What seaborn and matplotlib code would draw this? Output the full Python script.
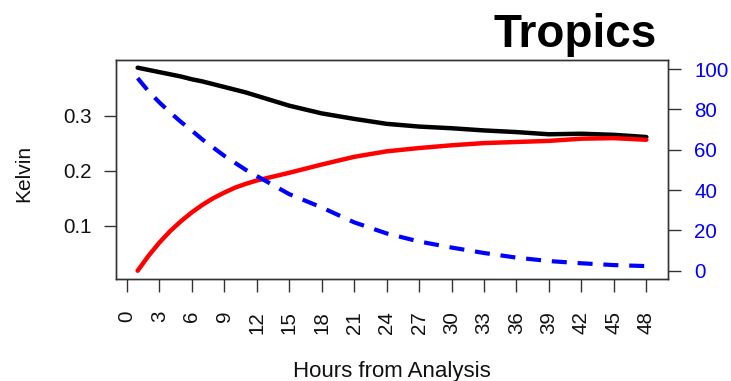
import matplotlib
matplotlib.use("Agg")
import matplotlib.pyplot as plt
import seaborn as sns
import pandas as pd

# Forecast hour and the three verification curves
hours = [1, 2, 3, 4, 5, 6, 7, 8, 9, 10, 11, 12, 15, 18, 21, 24, 27, 30,
         33, 36, 39, 42, 45, 48]
rmse_kelvin = [0.387, 0.383, 0.379, 0.375, 0.371, 0.366, 0.362, 0.357, 0.352,
               0.347, 0.342, 0.336, 0.318, 0.304, 0.294, 0.285, 0.280, 0.277,
               0.273, 0.270, 0.266, 0.267, 0.265, 0.261]
spread_kelvin = [0.018, 0.045, 0.069, 0.090, 0.108, 0.124, 0.138, 0.150, 0.160,
                 0.169, 0.176, 0.182, 0.196, 0.211, 0.225, 0.235, 0.241, 0.246,
                 0.250, 0.252, 0.254, 0.258, 0.259, 0.256]
percent_right = [95.5, 89.0, 83.5, 78.5, 73.8, 69.5, 65.0, 61.0, 57.0,
                 53.5, 50.0, 47.0, 38.0, 31.4, 24.0, 18.5, 14.5, 11.5,
                 8.8, 6.5, 4.8, 3.7, 2.8, 2.3]

x_ticks = list(range(0, 49, 3))
left_ticks = [0.1, 0.2, 0.3]
right_ticks = [0, 20, 40, 60, 80, 100]

df = pd.DataFrame({"hour": hours, "rmse": rmse_kelvin,
                   "spread": spread_kelvin, "pct": percent_right})

sns.set_theme(style="white")
plt.rcParams["font.family"] = ["Liberation Sans", "DejaVu Sans"]

W, H = 731, 381
fig = plt.figure(figsize=(W / 100, H / 100), dpi=100)
left, right, top, bottom = 116, 668, 60, 279
ax = fig.add_axes([left / W, 1 - bottom / H, (right - left) / W, (bottom - top) / H])

line_kw = dict(solid_joinstyle="round", solid_capstyle="round")
sns.lineplot(data=df, x="hour", y="rmse", ax=ax, color="black", lw=3.2, **line_kw)
sns.lineplot(data=df, x="hour", y="spread", ax=ax, color="#ff0000", lw=3.2, **line_kw)

ax2 = ax.twinx()
sns.lineplot(data=df, x="hour", y="pct", ax=ax2, color="#0000ff", lw=3.0,
             linestyle=(0, (3.6, 2.6)), dash_capstyle="butt")

ax.set_xlim(-1.0, 50.0)
ax.set_ylim(0.003, 0.401)
ax2.set_ylim(-4.1, 104.5)

ax.set_xticks(x_ticks)
ax.set_xticklabels([str(t) for t in x_ticks], rotation=90)
ax.set_yticks(left_ticks)
ax.set_yticklabels([f"{t:.1f}" for t in left_ticks])
ax2.set_yticks(right_ticks)
ax2.set_yticklabels([str(t) for t in right_ticks])

for a in (ax, ax2):
    for s in a.spines.values():
        s.set_color("#333333")
        s.set_linewidth(1.0)
    a.grid(False)

ax.tick_params(axis="both", direction="out", length=9, width=1.0,
               color="#333333", labelsize=14.8, labelcolor="#111111",
               left=True, bottom=True)
ax.tick_params(axis="x", pad=14)
ax.tick_params(axis="y", pad=8.5)
ax2.tick_params(axis="y", direction="out", length=9, width=1.0,
                color="#333333", labelsize=14.8, labelcolor="#0000ff",
                right=True, pad=10)

ax.set_xlabel("Hours from Analysis", fontsize=16, color="#111111", va="baseline")
ax.xaxis.set_label_coords(0.5, -(377 - bottom) / (bottom - top))
ax.set_ylabel("Kelvin", fontsize=15, color="#111111")
ax.yaxis.set_label_coords((33 - left) / (right - left), (bottom - 173.5) / (bottom - top))
ax2.set_ylabel("")

fig.text(657 / W, 1 - 47 / H, "Tropics", fontsize=33, fontweight="bold",
         ha="right", va="baseline", color="black")

fig.savefig("out.png", dpi=100, facecolor="white")
